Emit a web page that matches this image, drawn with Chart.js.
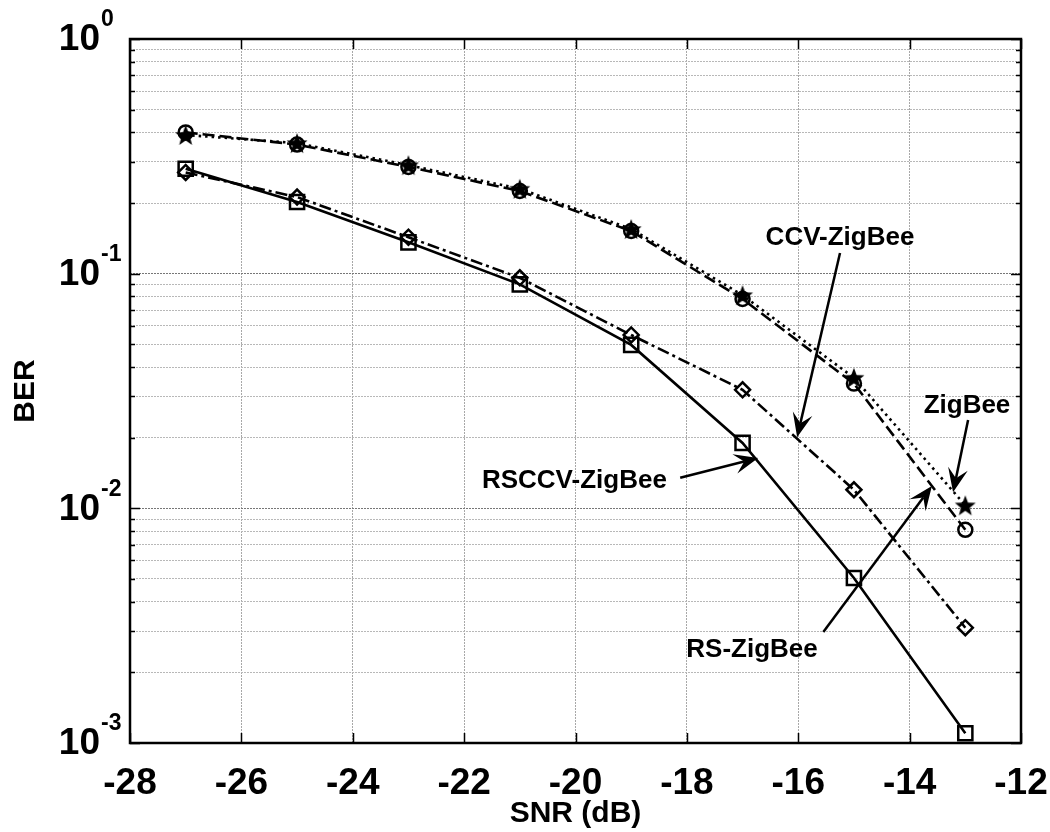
<!DOCTYPE html>
<html>
<head>
<meta charset="utf-8">
<title>BER vs SNR</title>
<script src="https://cdn.jsdelivr.net/npm/chart.js@4.4.1/dist/chart.umd.min.js"></script>
<style>
  html, body { margin: 0; padding: 0; background: #fff; }
  canvas { display: block; }
</style>
</head>
<body>
<canvas id="grafica" width="1050" height="832"></canvas>
<script>
const snr = [-27, -25, -23, -21, -19, -17, -15, -13];
const berZigBee = [0.39, 0.36, 0.29, 0.23, 0.155, 0.081, 0.036, 0.0103];
const berRS = [0.40, 0.355, 0.285, 0.225, 0.152, 0.078, 0.034, 0.0081];
const berCCV = [0.27, 0.212, 0.143, 0.096, 0.0548, 0.032, 0.012, 0.0031];
const berRSCCV = [0.28, 0.202, 0.136, 0.090, 0.0497, 0.019, 0.00505, 0.0011];

const xTicks = [-28, -26, -24, -22, -20, -18, -16, -14, -12];
const decadas = [-3, -2, -1, 0];

// etiquetas con flecha: texto, posicion del texto, cola y punta de la flecha
const notas = ['CCV-ZigBee', 'ZigBee', 'RSCCV-ZigBee', 'RS-ZigBee'];
const notaX = [-15.25, -12.97, -20.02, -16.83];
const notaY = [0.142, 0.0273, 0.0131, 0.00249];
const colaX = [-15.25, -12.95, -18.12, -15.55];
const colaY = [0.1225, 0.0238, 0.0135, 0.00297];
const puntaX = [-16.02, -13.22, -16.72, -13.60];
const puntaY = [0.0201, 0.0117, 0.0164, 0.01246];

const fuente = '"Liberation Sans", Arial, sans-serif';

// estrella de cinco puntas para el marcador
function crearEstrella(r) {
    const c = document.createElement('canvas');
    c.width = c.height = r * 2 + 4;
    const g = c.getContext('2d');
    const cx = c.width / 2, cy = c.height / 2 + 1;
    g.beginPath();
    for (let i = 0; i < 10; i++) {
        const rad = i % 2 === 0 ? r : r * 0.42;
        const a = -Math.PI / 2 + i * Math.PI / 5;
        const px = cx + rad * Math.cos(a), py = cy + rad * Math.sin(a);
        if (i === 0) g.moveTo(px, py); else g.lineTo(px, py);
    }
    g.closePath();
    g.fillStyle = '#000';
    g.fill();
    return c;
}

// marcas de division de la rejilla logaritmica (1..9 por decada)
let yTicks = [];
decadas.forEach(d => {
    for (let m = 1; m <= 9; m++) {
        if (d === 0 && m > 1) break;
        yTicks.push(m * Math.pow(10, d));
    }
});

function esDecada(v) {
    const l = Math.log10(v);
    return Math.abs(l - Math.round(l)) < 1e-9;
}

function serie(label, datos, dash, estilo, radio) {
    return {
        label: label,
        data: snr.map((x, i) => ({ x: x, y: datos[i] })),
        borderColor: '#000',
        borderWidth: 2.6,
        borderDash: dash,
        pointStyle: estilo,
        pointRadius: radio,
        pointBorderColor: '#000',
        pointBorderWidth: 2.5,
        pointBackgroundColor: 'rgba(0,0,0,0)',
        fill: false,
        tension: 0
    };
}

function flecha(ctx, x0, y0, x1, y1) {
    const ang = Math.atan2(y1 - y0, x1 - x0);
    const L = 24, W = 10;
    ctx.beginPath();
    ctx.moveTo(x0, y0);
    ctx.lineTo(x1 - Math.cos(ang) * L * 0.6, y1 - Math.sin(ang) * L * 0.6);
    ctx.stroke();
    ctx.save();
    ctx.translate(x1, y1);
    ctx.rotate(ang);
    ctx.beginPath();
    ctx.moveTo(0, 0);
    ctx.lineTo(-L, -W);
    ctx.lineTo(-L * 0.6, 0);
    ctx.lineTo(-L, W);
    ctx.closePath();
    ctx.fill();
    ctx.restore();
}

const textos = {
    id: 'textos',
    afterDraw(chart) {
        const ctx = chart.ctx;
        const xs = chart.scales.x, ys = chart.scales.y;
        const a = chart.chartArea;
        ctx.save();
        ctx.fillStyle = '#000';
        ctx.strokeStyle = '#000';

        // marcas hacia adentro
        ctx.lineWidth = 1.5;
        yTicks.forEach(v => {
            const py = Math.round(ys.getPixelForValue(v)) + 0.5;
            const len = esDecada(v) ? 10 : 5;
            ctx.beginPath();
            ctx.moveTo(a.left, py); ctx.lineTo(a.left + len, py);
            ctx.moveTo(a.right, py); ctx.lineTo(a.right - len, py);
            ctx.stroke();
        });
        xTicks.forEach(v => {
            const px = Math.round(xs.getPixelForValue(v)) + 0.5;
            ctx.beginPath();
            ctx.moveTo(px, a.bottom); ctx.lineTo(px, a.bottom - 10);
            ctx.moveTo(px, a.top); ctx.lineTo(px, a.top + 10);
            ctx.stroke();
        });

        // marco
        ctx.lineWidth = 2.5;
        ctx.strokeRect(a.left, a.top, a.right - a.left, a.bottom - a.top);

        // etiquetas del eje x
        ctx.font = 'bold 37px ' + fuente;
        ctx.textAlign = 'center';
        ctx.textBaseline = 'middle';
        xTicks.forEach(v => {
            ctx.fillText(String(v), xs.getPixelForValue(v), a.bottom + 41);
        });

        // etiquetas del eje y con exponente
        decadas.forEach(d => {
            const py = ys.getPixelForValue(Math.pow(10, d));
            ctx.font = 'bold 37px ' + fuente;
            ctx.textAlign = 'right';
            ctx.textBaseline = 'middle';
            ctx.fillText('10', 100, py + 1);
            ctx.font = 'bold 23px ' + fuente;
            ctx.textAlign = 'left';
            ctx.fillText(String(d), 101, py - 19);
        });

        // titulos de ejes
        ctx.font = 'bold 30px ' + fuente;
        ctx.textAlign = 'center';
        ctx.textBaseline = 'middle';
        ctx.fillText('SNR (dB)', (a.left + a.right) / 2, 814);
        ctx.save();
        ctx.translate(26, (a.top + a.bottom) / 2);
        ctx.rotate(-Math.PI / 2);
        ctx.fillText('BER', 0, 0);
        ctx.restore();

        // notas con flechas
        ctx.font = 'bold 26px ' + fuente;
        ctx.lineWidth = 2.5;
        notas.forEach((t, i) => {
            ctx.fillText(t, xs.getPixelForValue(notaX[i]), ys.getPixelForValue(notaY[i]));
            flecha(ctx,
                xs.getPixelForValue(colaX[i]), ys.getPixelForValue(colaY[i]),
                xs.getPixelForValue(puntaX[i]), ys.getPixelForValue(puntaY[i]));
        });
        ctx.restore();
    }
};

const ctx = document.getElementById('grafica').getContext('2d');
const miGrafica = new Chart(ctx, {
    type: 'line',
    data: {
        datasets: [
            serie('ZigBee', berZigBee, [2.5, 4], crearEstrella(11), 11),
            serie('RS-ZigBee', berRS, [12, 5], 'circle', 7),
            serie('CCV-ZigBee', berCCV, [12, 4, 3, 4], 'rectRot', 7.5),
            serie('RSCCV-ZigBee', berRSCCV, [], 'rect', 10)
        ]
    },
    options: {
        responsive: false,
        animation: false,
        layout: { padding: { left: 130, right: 29, top: 39, bottom: 89 } },
        plugins: {
            legend: { display: false },
            tooltip: { enabled: false }
        },
        scales: {
            x: {
                type: 'linear',
                min: -28,
                max: -12,
                afterBuildTicks: scale => { scale.ticks = xTicks.map(v => ({ value: v })); },
                ticks: { display: false },
                grid: { color: '#a8a8a8', lineWidth: 1, drawTicks: false },
                border: { display: false, dash: [2, 1] }
            },
            y: {
                type: 'logarithmic',
                min: 0.001,
                max: 1,
                afterBuildTicks: scale => { scale.ticks = yTicks.map(v => ({ value: v })); },
                ticks: { display: false },
                grid: {
                    color: c => (c.tick && esDecada(c.tick.value)) ? '#777' : '#b8b8b8',
                    lineWidth: 1,
                    drawTicks: false
                },
                border: { display: false, dash: [2, 1] }
            }
        }
    },
    plugins: [textos]
});
</script>
</body>
</html>
